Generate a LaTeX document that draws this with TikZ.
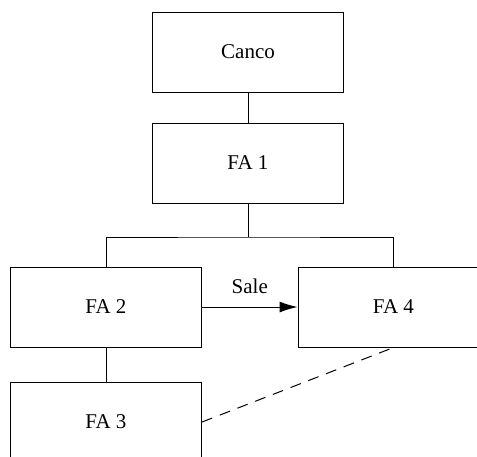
\documentclass[tikz,border=0pt]{standalone}
\usepackage{fontspec}
\setmainfont{Liberation Serif}
\usetikzlibrary{arrows.meta}
\begin{document}
\begin{tikzpicture}[x=1pt,y=-1pt,
  box/.style={draw=black, line width=1pt, rectangle, minimum width=191pt, minimum height=80pt, inner sep=0pt, font=\fontsize{21}{25}\selectfont},
  conn/.style={draw=black, line width=1pt}]
\useasboundingbox (0,0) rectangle (477,456);
\clip (0,0) rectangle (477,456);
\node[box] (canco) at (248,52) {Canco};
\node[box] (fa1) at (248,163) {FA 1};
\node[box] (fa2) at (106,307) {FA 2};
\node[box] (fa4) at (393.5,307) {FA 4};
\node[box] (fa3) at (106,422) {FA 3};
\coordinate (bus) at (248,237);
\draw[conn] (canco) -- (fa1);
\draw[conn] (fa1) -- (bus);
\draw[conn] (fa2.north) |- (bus) -| (fa4.north);
\draw[conn] (fa2) -- (fa3);
\draw[conn, -{Latex[length=18pt,width=11pt]}] (fa2) -- node[above=13pt, font=\fontsize{21}{25}\selectfont, inner sep=0pt] (sale) {Sale} (fa4);
\draw[conn, dash pattern=on 11pt off 8pt] (fa3.east) -- (fa4.south);
\end{tikzpicture}
\end{document}
